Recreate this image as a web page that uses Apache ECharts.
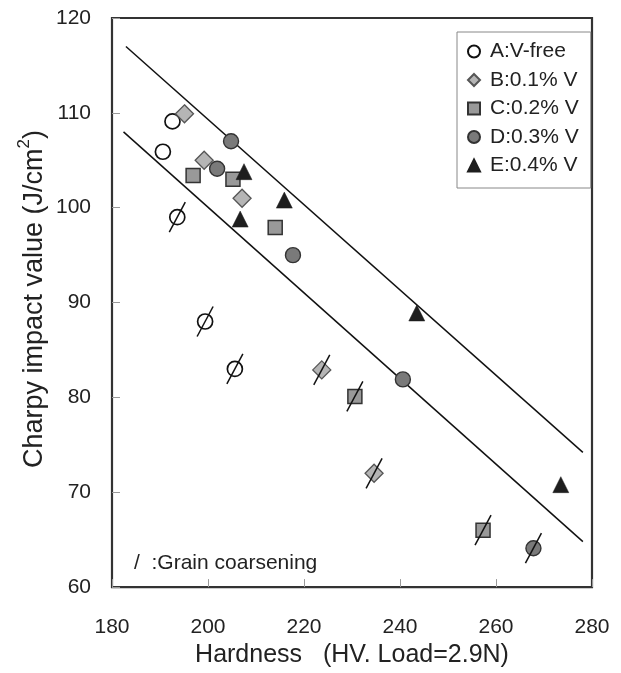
<!DOCTYPE html>
<html>
<head>
<meta charset="utf-8">
<script src="https://cdn.jsdelivr.net/npm/echarts@6/dist/echarts.min.js"></script>
<style>html,body{margin:0;padding:0;background:#fff;}#c{width:621px;height:673px;}</style>
</head>
<body>
<div id="c"></div>
<script>
// ---- data ----
const seriesNames = ['A:V-free', 'B:0.1% V', 'C:0.2% V', 'D:0.3% V', 'E:0.4% V'];
const hardA = [192.6, 190.6, 193.6, 199.4, 205.6];
const charpyA = [109.1, 105.9, 99.0, 88.0, 83.0];
const coarseA = [0, 0, 1, 1, 1];
const hardB = [195.1, 199.2, 207.1, 223.7, 234.6];
const charpyB = [109.9, 105.0, 101.0, 82.9, 72.0];
const coarseB = [0, 0, 0, 1, 1];
const hardC = [196.9, 205.2, 214.0, 230.6, 257.3];
const charpyC = [103.4, 103.0, 97.9, 80.1, 66.0];
const coarseC = [0, 0, 0, 1, 1];
const hardD = [204.8, 201.9, 217.7, 240.6, 267.8];
const charpyD = [107.0, 104.1, 95.0, 81.9, 64.1];
const coarseD = [0, 0, 0, 0, 1];
const hardE = [207.5, 215.9, 206.7, 243.5, 273.5];
const charpyE = [103.8, 100.8, 98.8, 88.9, 70.8];
const coarseE = [0, 0, 0, 0, 0];
const upperBandHard = [182.9, 278.1];
const upperBandCharpy = [117.0, 74.2];
const lowerBandHard = [182.4, 278.1];
const lowerBandCharpy = [108.0, 64.8];
const xTicks = [180, 200, 220, 240, 260, 280];
const yTicks = [60, 70, 80, 90, 100, 110, 120];

// ---- build ----
const zip = (xs, ys) => xs.map((x, i) => [x, ys[i]]);
const FONT = "'Liberation Sans', Arial, sans-serif";
const styles = [
  {symbol: 'circle', size: 15, color: '#ffffff', border: '#111111', bw: 1.7},
  {symbol: 'diamond', size: 18, color: '#b5b5b5', border: '#555555', bw: 1.3},
  {symbol: 'rect', size: 14, color: '#999999', border: '#333333', bw: 1.5},
  {symbol: 'circle', size: 15, color: '#7a7a7a', border: '#333333', bw: 1.4},
  {symbol: 'triangle', size: 16, color: '#1e1e1e', border: '#1e1e1e', bw: 0.5}
];
const hards = [hardA, hardB, hardC, hardD, hardE];
const charpys = [charpyA, charpyB, charpyC, charpyD, charpyE];
const coarses = [coarseA, coarseB, coarseC, coarseD, coarseE];

const series = [];
series.push({type: 'line', name: 'upper', data: zip(upperBandHard, upperBandCharpy), symbol: 'none', silent: true,
  lineStyle: {color: '#111', width: 1.5}, z: 1});
series.push({type: 'line', name: 'lower', data: zip(lowerBandHard, lowerBandCharpy), symbol: 'none', silent: true,
  lineStyle: {color: '#111', width: 1.5}, z: 1});
seriesNames.forEach((nm, k) => {
  const s = styles[k];
  series.push({
    type: 'scatter', name: nm, data: zip(hards[k], charpys[k]),
    symbol: s.symbol, symbolSize: s.size,
    itemStyle: {color: s.color, borderColor: s.border, borderWidth: s.bw, opacity: 1},
    z: 3
  });
});
const coarsePts = [];
coarses.forEach((arr, k) => arr.forEach((f, i) => { if (f) coarsePts.push([hards[k][i], charpys[k][i]]); }));
series.push({
  type: 'custom', name: 'coarse', data: coarsePts, silent: true, z: 5,
  renderItem: function (params, api) {
    const p = api.coord([api.value(0), api.value(1)]);
    return {type: 'line', shape: {x1: p[0] - 8, y1: p[1] + 15, x2: p[0] + 8, y2: p[1] - 15},
      style: {stroke: '#111', lineWidth: 1.5}};
  }
});

const chart = echarts.init(document.getElementById('c'), null, {renderer: 'canvas'});
chart.setOption({
  animation: false,
  backgroundColor: '#fff',
  grid: {left: 112, right: 29, top: 18, bottom: 85, show: true, borderColor: '#333', borderWidth: 2.2, backgroundColor: 'transparent'},
  xAxis: {
    type: 'value', min: xTicks[0], max: xTicks[xTicks.length - 1], interval: 20,
    axisLine: {show: false},
    axisTick: {show: true, inside: true, length: 8, lineStyle: {color: '#999', width: 1}},
    splitLine: {show: false},
    axisLabel: {margin: 30, fontSize: 21, color: '#222', fontFamily: FONT},
    name: 'Hardness   (HV. Load=2.9N)', nameLocation: 'middle', nameGap: 50,
    nameTextStyle: {fontSize: 25, color: '#222', fontFamily: FONT}
  },
  yAxis: {
    type: 'value', min: yTicks[0], max: yTicks[yTicks.length - 1], interval: 10,
    axisLine: {show: false},
    axisTick: {show: true, inside: true, length: 8, lineStyle: {color: '#999', width: 1}},
    splitLine: {show: false},
    axisLabel: {margin: 21, fontSize: 21, color: '#222', fontFamily: FONT}
  },
  legend: {
    data: seriesNames, orient: 'vertical', left: 457, top: 32,
    padding: [9, 12, 12, 10], itemGap: 7.5, itemWidth: 12, itemHeight: 12,
    borderColor: '#888', borderWidth: 1, backgroundColor: '#fff',
    textStyle: {fontSize: 21, color: '#222', fontFamily: FONT, padding: [0, 0, 0, 5]}
  },
  graphic: [
    {type: 'text', x: 32, y: 299, rotation: Math.PI / 2,
      style: {text: '{a|Charpy impact value (J/cm}{s|2}{a|)}', align: 'center', verticalAlign: 'middle',
        rich: {a: {fontSize: 27, fontFamily: FONT, fill: '#222', lineHeight: 32, verticalAlign: 'bottom'},
               s: {fontSize: 17, fontFamily: FONT, fill: '#222', lineHeight: 32, verticalAlign: 'top'}}}},
    {type: 'text', x: 134, y: 563,
      style: {text: '/  :Grain coarsening', fontSize: 21, fontFamily: FONT, fill: '#222', verticalAlign: 'middle'}}
  ],
  series: series
});
</script>
</body>
</html>
